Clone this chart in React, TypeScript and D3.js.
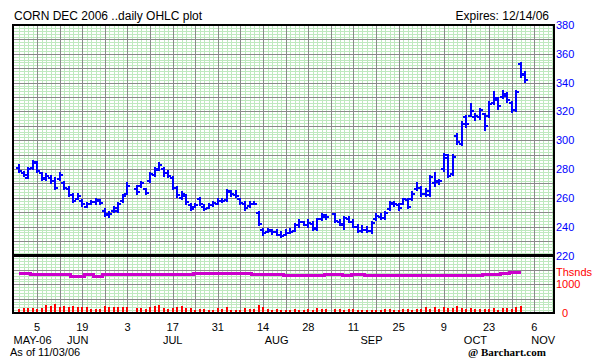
import React from "react";
import * as d3 from "d3";

const dates = [
  "2006-05-30","2006-05-31",
  "2006-06-01","2006-06-02","2006-06-05","2006-06-06","2006-06-07","2006-06-08","2006-06-09","2006-06-12","2006-06-13","2006-06-14","2006-06-15","2006-06-16","2006-06-19","2006-06-20","2006-06-21","2006-06-22","2006-06-23","2006-06-26","2006-06-27","2006-06-28","2006-06-29","2006-06-30",
  "2006-07-03","2006-07-05","2006-07-06","2006-07-07","2006-07-10","2006-07-11","2006-07-12","2006-07-13","2006-07-14","2006-07-17","2006-07-18","2006-07-19","2006-07-20","2006-07-21","2006-07-24","2006-07-25","2006-07-26","2006-07-27","2006-07-28","2006-07-31",
  "2006-08-01","2006-08-02","2006-08-03","2006-08-04","2006-08-07","2006-08-08","2006-08-09","2006-08-10","2006-08-11","2006-08-14","2006-08-15","2006-08-16","2006-08-17","2006-08-18","2006-08-21","2006-08-22","2006-08-23","2006-08-24","2006-08-25","2006-08-28","2006-08-29","2006-08-30","2006-08-31",
  "2006-09-01","2006-09-05","2006-09-06","2006-09-07","2006-09-08","2006-09-11","2006-09-12","2006-09-13","2006-09-14","2006-09-15","2006-09-18","2006-09-19","2006-09-20","2006-09-21","2006-09-22","2006-09-25","2006-09-26","2006-09-27","2006-09-28","2006-09-29",
  "2006-10-02","2006-10-03","2006-10-04","2006-10-05","2006-10-06","2006-10-09","2006-10-10","2006-10-11","2006-10-12","2006-10-13","2006-10-16","2006-10-17","2006-10-18","2006-10-19","2006-10-20","2006-10-23","2006-10-24","2006-10-25","2006-10-26","2006-10-27","2006-10-30","2006-10-31",
  "2006-11-01","2006-11-02"
];

const opens = [
  281,277.5,274,281,284.5,277,273,274,272,273,270,266,262,259.5,258,254,256,257,258,251,248,251,251,257.5,263,
  266,268,266,272,276,280,280,277,274,267,260,261,255,254,259,254,253,255,256,258,258.5,264,262,259,256,254.5,256,249.5,238,236.5,237,236,234,234,235.5,237,241,243,241,242,238.5,245,247,
  248.5,243.5,241,245.5,243,240,237,238,237,245,247,246,252,256,255,256,258.5,259,266,267,263,262,270,271,280,288,276.5,303,297.5,316,317,316,316,318,317,326,328,330,332,326,321,353,346
];
const highs = [
  282.6,278,281,285.5,285,277.5,276.5,275,274,277,271,267.5,263,262.5,258.5,256.5,257.5,259.5,258.5,252,250.5,253.5,256.5,262,270,
  268,271,266.5,277,280.5,284.5,280.5,279,274.5,267.5,264,262,256,256,260,255,255.5,257,259,259.5,265.5,264.5,265,259.5,257,257,257,250,238.6,238.6,238,237.5,236,237.5,238.5,242,244.5,243.5,244.5,243,245.5,249,248,
  249,244.5,246.5,247,244.5,241,240.5,239.5,243,249,249,250,257,257,255.5,259.5,259.5,264,270,267.5,266.5,275.5,277,272.5,290.5,289.5,289.5,304,313,316.5,325,318.5,322,318.5,326.5,333.5,329,334,332.5,326.5,334,353.5,347.5
];
const lows = [
  278,275.5,273.5,280,278,272.5,272.5,270.5,266.5,272.5,266.5,261.5,257,259,254.5,253.5,255.5,256,256,247.5,247,250.5,250.5,257,262.5,
  263,267.5,263,271,275,279.5,275.5,274.5,266.5,260.5,259.5,256,251.5,253.5,255,251.5,253,254.5,255.5,257,258,261.5,260.5,256,251.5,254,255.5,241.5,234.5,236,235,234,232.5,234,235.5,237,240,241,239.5,238,238,244.5,245,
  243.5,241,238.5,243,239.5,236,236.5,236.5,235.5,244.5,245,245.5,251.5,254.5,251.5,256,253,258.5,265.5,261.5,261.5,261,268.5,269.5,279,274.5,276,297.5,296.5,309.5,317,314,315,307,316,325.5,322,329,326.5,319.5,320.5,344,340.5
];
const closes = [
  279,276,280,285,279,273.5,275,272,267,276,267,262,258,261.5,255.5,255.5,257,258.5,256.5,248.5,249,253,256,261,268.5,
  264,270,263.5,276.5,279.5,283,277,275,267,262,263,257,252,255,255.5,252.5,255,256.5,258,257.5,264.5,262.5,261,256.5,253,256,256,242,235.5,237.5,236,234.5,233.5,235.5,236,241,243.5,241.5,242.5,239,245,248,246.5,
  244,242,246,243.5,240,237,237.5,237,242.5,247.5,246,249.5,256.5,255.5,253,259,254,263,267,262.5,265,274.5,272,271.5,289.5,275.5,288.5,298.5,311.5,311,320,317,321,310,325,329,324,331,328,321,333.5,345,341.5
];

// volume and open interest (thousands), reported through 2006-11-01
const volumes = [
  107,143,143,143,118,143,250,214,286,189,214,189,214,168,189,168,118,118,118,214,168,168,168,168,168,
  143,143,118,189,214,250,143,118,143,189,214,143,143,89,118,118,89,89,143,118,168,89,89,89,143,118,118,250,168,118,89,118,89,89,89,107,89,89,107,89,132,118,118,
  118,118,89,118,96,71,71,71,89,71,89,96,107,89,89,96,118,89,96,118,168,118,168,118,168,143,143,214,143,118,143,118,118,118,96,143,89,143,143,118,168,214
];
const openInterest = [
  1375,1375,1375,1340,1340,1325,1325,1325,1325,1325,1325,1325,1280,1280,1280,1340,1340,1270,1270,1340,1340,1340,1340,1340,1340,
  1340,1340,1340,1340,1340,1340,1340,1357,1357,1357,1357,1357,1357,1390,1390,1390,1390,1390,1390,1390,1390,1390,1390,1360,1360,1360,1330,1330,1330,1330,1330,1330,1330,1320,1320,1320,1320,1300,1300,1315,1315,1315,1340,
  1340,1340,1320,1320,1340,1340,1340,1318,1318,1318,1290,1290,1290,1290,1315,1315,1315,1315,1315,1315,1315,1315,1290,1290,1290,1290,1295,1315,1315,1315,1315,1315,1315,1340,1340,1357,1357,1380,1380,1393,1393,1393
];

const priceTicks = [220, 240, 260, 280, 300, 320, 340, 360, 380];
const dayTickDates = ["2006-06-05","2006-06-19","2006-07-03","2006-07-17","2006-07-31","2006-08-14","2006-08-28","2006-09-11","2006-09-25","2006-10-09","2006-10-23","2006-11-06"];
const monthNames = ["MAY-06", "JUN", "JUL", "AUG", "SEP", "OCT", "NOV"];
const monthAnchorDates = ["2006-06-02","2006-06-16","2006-07-17","2006-08-17","2006-09-15","2006-10-18","2006-11-08"];

const FONT = "'Liberation Sans', Arial, sans-serif";

export default function App() {
  const parse = d3.timeParse("%Y-%m-%d");
  const start = parse(dates[0]) as Date;
  const wd = (s: string) => {
    const d = parse(s) as Date;
    return 5 * d3.timeMonday.count(start, d) + d.getDay() - 2;
  };
  const L = 13, R = 554, T = 25, B = 313, SPLIT = 255.5;
  const x = d3.scaleLinear().domain([0, 112]).range([19, 525.2]);
  const y = d3.scaleLinear().domain([220, 380]).range([255.5, 25]);
  const yv = d3.scaleLinear().domain([0, 1000]).range([312, 284]);

  const idx = dates.map(wd);

  const vLines = d3.range(-1, 119).filter((i) => x(i) > 15 && x(i) < R - 1);
  const hLines = d3.range(180, 381, 2).filter((v) => y(v) > T + 1 && y(v) < B - 1);

  const oiLine = d3
    .line<number>()
    .x((_, i) => x(idx[i]))
    .y((v) => yv(v))
    .curve(d3.curveStep)(openInterest);

  const fmtDay = d3.timeFormat("%-d");
  const blue = "#0000ff";
  const green = "#bfe9bf";
  const gray = "#8a8a8a";

  return (
    <svg
      width={612}
      height={360}
      style={{ position: "absolute", left: 0, top: 0, background: "#fff" }}
      shapeRendering="crispEdges"
    >
      <rect x={0} y={0} width={612} height={360} fill="#fff" />
      {/* minor grid */}
      {vLines.filter((i) => (i + 1) % 5 !== 0).map((i) => (
        <line key={"v" + i} x1={Math.round(x(i)) + 0.5} x2={Math.round(x(i)) + 0.5} y1={T} y2={B} stroke={green} strokeWidth={1} />
      ))}
      {hLines.filter((v) => v % 10 !== 0).map((v) => (
        <line key={"h" + v} x1={L} x2={R} y1={Math.round(y(v)) + 0.5} y2={Math.round(y(v)) + 0.5} stroke={green} strokeWidth={1} />
      ))}
      {/* major grid */}
      {vLines.filter((i) => (i + 1) % 5 === 0).map((i) => (
        <line key={"V" + i} x1={Math.round(x(i)) + 0.5} x2={Math.round(x(i)) + 0.5} y1={T} y2={B} stroke={gray} strokeWidth={1} />
      ))}
      {hLines.filter((v) => v % 10 === 0).map((v) => (
        <line key={"H" + v} x1={L} x2={R} y1={Math.round(y(v)) + 0.5} y2={Math.round(y(v)) + 0.5} stroke={gray} strokeWidth={1} />
      ))}
      {/* frame */}
      <rect x={L} y={T} width={R - L} height={B - T} fill="none" stroke="#000" strokeWidth={2.5} />
      <line x1={L} x2={R} y1={SPLIT} y2={SPLIT} stroke="#000" strokeWidth={2.5} />

      {/* volume */}
      {volumes.map((v, i) => (
        <rect key={"vol" + i} x={Math.round(x(idx[i])) - 1} y={yv(v)} width={2} height={yv(0) - yv(v)} fill="#ff0000" />
      ))}
      {/* open interest */}
      <path d={oiLine || ""} fill="none" stroke="#cc00cc" strokeWidth={3} />

      {/* OHLC bars */}
      {dates.map((d, i) => {
        const cx = Math.round(x(idx[i]));
        return (
          <g key={"b" + i} stroke={blue} strokeWidth={2}>
            <line x1={cx} x2={cx} y1={y(highs[i]) - 1} y2={y(lows[i]) + 1} />
            <line x1={cx - 3} x2={cx} y1={Math.round(y(opens[i]))} y2={Math.round(y(opens[i]))} />
            <line x1={cx} x2={cx + 3} y1={Math.round(y(closes[i]))} y2={Math.round(y(closes[i]))} />
          </g>
        );
      })}

      {/* texts */}
      <g fontFamily={FONT} fontSize={12}>
        <text x={14} y={20} fill="#000">CORN DEC 2006 ..daily OHLC plot</text>
        <text x={549} y={20} fill="#000" textAnchor="end">Expires: 12/14/06</text>
      </g>
      <g fontFamily={FONT} fontSize={11}>
        {priceTicks.map((v) => (
          <text key={"pt" + v} x={556} y={y(v) + 4} fill={blue}>{v}</text>
        ))}
        <text x={556} y={276} fill="#ff0000">Thsnds</text>
        <text x={556} y={288} fill="#ff0000">1000</text>
        <text x={562} y={317} fill="#ff0000">0</text>
        {dayTickDates.map((s) => (
          <text key={"dt" + s} x={x(wd(s))} y={331} textAnchor="middle" fill="#000">
            {fmtDay(parse(s) as Date)}
          </text>
        ))}
        {monthNames.map((m, i) => (
          <text key={"m" + m} x={x(wd(monthAnchorDates[i]))} y={343.5} textAnchor="middle" fill="#000">
            {m}
          </text>
        ))}
        <text x={10} y={356} fill="#000">As of 11/03/06</text>
        <text x={468} y={356} fill="#000" fontFamily="'Liberation Serif', 'Times New Roman', serif" fontWeight="bold">
          @ Barchart.com
        </text>
      </g>
    </svg>
  );
}
